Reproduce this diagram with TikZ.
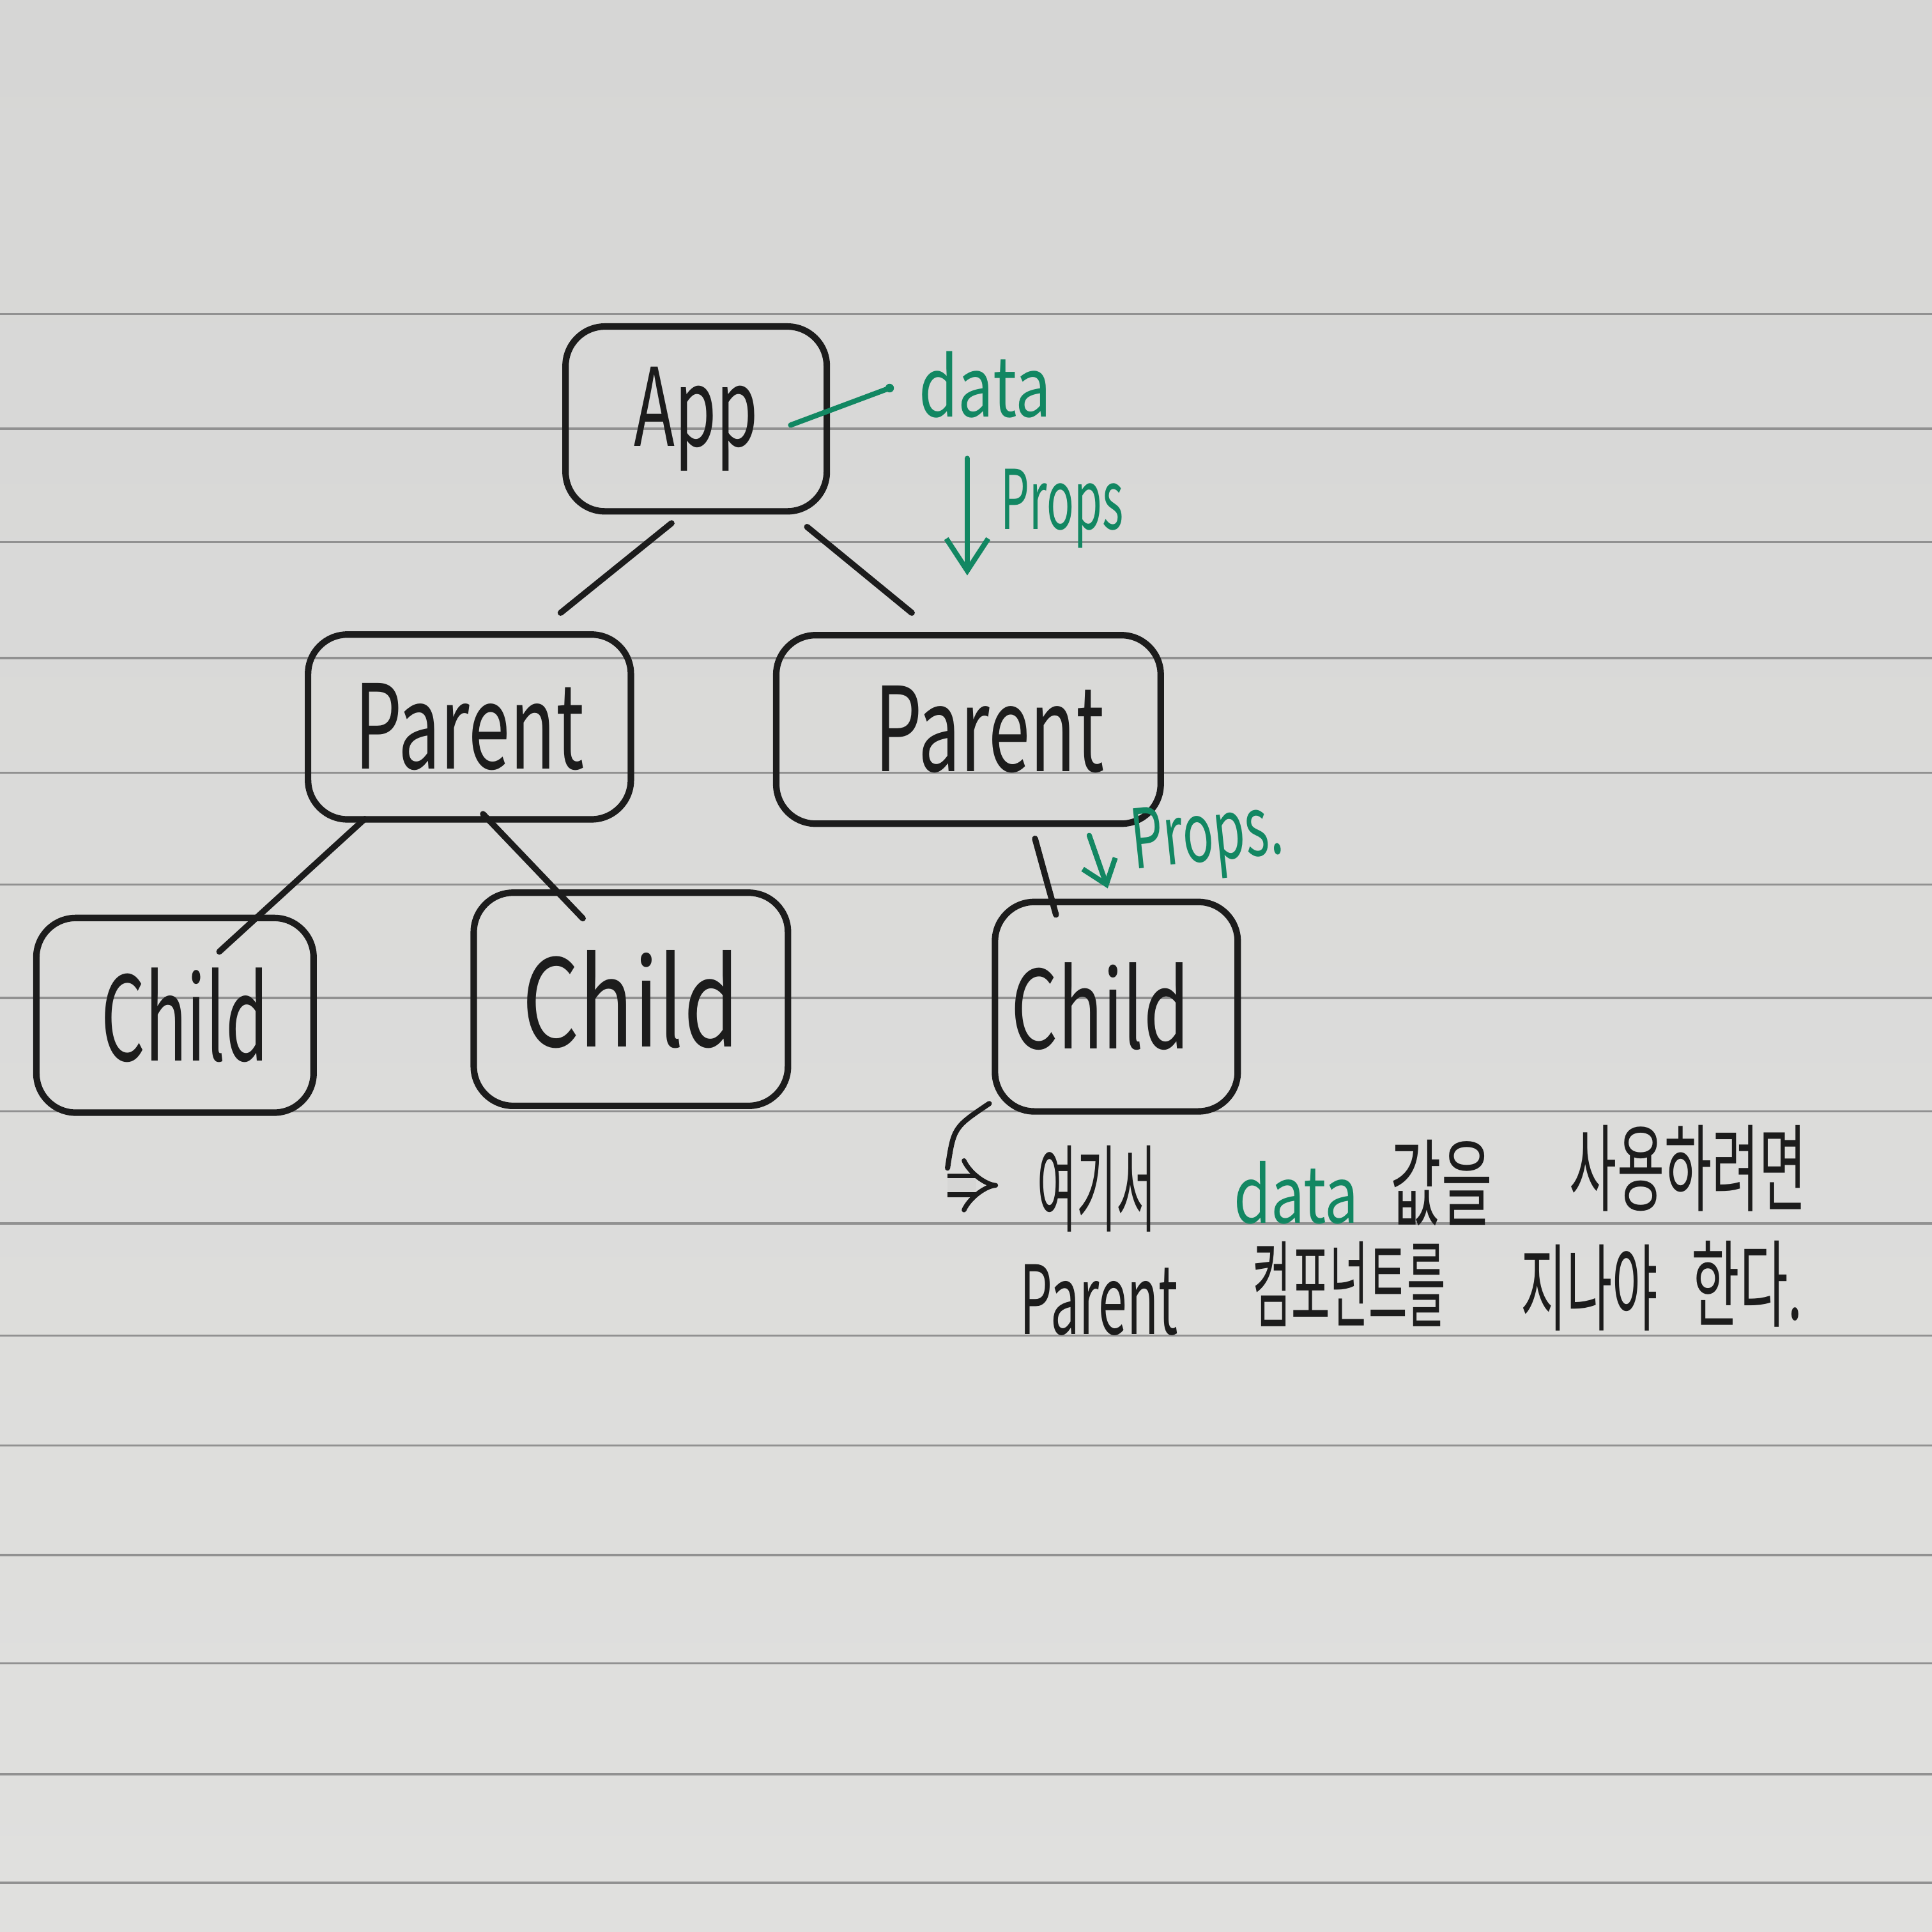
\documentclass[tikz,border=0pt]{standalone}
\usepackage{fontspec}
\usepackage{graphicx}
\setmainfont{Noto Sans CJK KR}
\usetikzlibrary{arrows.meta,calc}
\definecolor{paperA}{RGB}{214,214,213}
\definecolor{paperB}{RGB}{224,224,222}
\definecolor{rulec}{RGB}{145,145,145}
\definecolor{ink}{RGB}{28,28,28}
\definecolor{gink}{RGB}{18,135,98}
\newcommand{\hx}[2]{\scalebox{#1}[1]{#2}}
\begin{document}
\begin{tikzpicture}[x=1cm,y=1cm,
  box/.style={draw=ink, line width=1.5pt, rounded corners=0.32cm, inner sep=0pt, text=ink},
  edge/.style={draw=ink, line width=1.4pt, line cap=round},
  gline/.style={draw=gink, line width=1.2pt, line cap=round},
  glabel/.style={text=gink, inner sep=0pt, font=\fontsize{19}{22}\selectfont},
  klabel/.style={text=ink, inner sep=0pt, font=\fontsize{22}{26}\selectfont},
  ruled/.style={draw=rulec, line width=0.5pt}
]
\shade[top color=paperA, bottom color=paperB] (0,0) rectangle (15.68,-15.68);
\useasboundingbox (0,0) rectangle (15.68,-15.68);
\foreach \y in {2.55,3.48,4.40,5.34,6.27,7.18,8.10,9.02,9.93,10.84,11.73,12.62,13.50,14.40,15.28}
  \draw[ruled] (0,-\y) -- (15.68,-\y);

% tree nodes
\node[box, minimum width=2.12cm, minimum height=1.50cm, font=\fontsize{25}{28}\selectfont] (app) at (5.65,-3.40) {\hx{0.62}{App}};
\node[box, minimum width=2.62cm, minimum height=1.50cm, font=\fontsize{27}{30}\selectfont] (p1) at (3.81,-5.90) {\hx{0.64}{Parent}};
\node[box, minimum width=3.12cm, minimum height=1.53cm, font=\fontsize{27}{30}\selectfont] (p2) at (7.86,-5.92) {\hspace*{0.34cm}\hx{0.64}{Parent}};
\node[box, minimum width=2.25cm, minimum height=1.58cm, font=\fontsize{27}{30}\selectfont] (c1) at (1.42,-8.24) {\hspace*{0.16cm}\hx{0.59}{Child}};
\node[box, minimum width=2.55cm, minimum height=1.73cm, font=\fontsize{28}{31}\selectfont] (c2) at (5.12,-8.11) {\hx{0.74}{Child}};
\node[box, minimum width=1.97cm, minimum height=1.70cm, font=\fontsize{25}{28}\selectfont] (c3) at (9.06,-8.17) {\hx{0.68}{Child}\hspace*{0.26cm}};

% tree edges
\draw[edge] ($(app.south)+(-0.20,-0.07)$) -- ($(p1.north)+(0.74,0.15)$);
\draw[edge] ($(app.south)+(0.90,-0.10)$) -- ($(p2.north)+(-0.46,0.155)$);
\draw[edge] ($(p1.south)+(-0.85,0.03)$) -- ($(c1.north)+(0.36,-0.30)$);
\draw[edge] ($(p1.south)+(0.11,0.07)$) -- ($(c2.north)+(-0.39,-0.235)$);
\draw[edge] ($(p2.south)+(0.54,-0.095)$) -- ($(c3.north)+(-0.49,-0.13)$);

% data label and line
\node[glabel, anchor=west] (data) at (7.45,-3.12) {\hx{0.77}{data}};
\coordinate (dstart) at ($(app.east)+(-0.32,-0.05)$);
\coordinate (dend) at ($(data.west)+(-0.23,-0.03)$);
\draw[gline] (dstart) -- (dend);
\fill[gink] (dend) circle (0.035);

% props arrow 1
\coordinate (pa) at (7.85,-3.72);
\coordinate (pb) at (7.85,-4.67);
\draw[gline, -{Straight Barb[length=2.6mm,width=3.4mm]}] (pa) -- (pb);
\node[glabel] (props1) at (8.62,-4.13) {\hx{0.55}{Props}};

% props arrow 2
\coordinate (qa) at (8.84,-6.78);
\coordinate (qb) at (8.99,-7.21);
\draw[gline, -{Straight Barb[length=1.8mm,width=2.8mm]}] (qa) -- (qb);
\node[glabel, rotate=6] (props2) at (9.80,-6.82) {\hx{0.62}{Props.}};

% bottom arrow
\coordinate (ba) at ($(c3.south west)+(-0.02,0.09)$);
\coordinate (bb) at (7.69,-9.48);
\coordinate (bc) at (7.69,-9.62);
\coordinate (bd) at (8.10,-9.62);
\draw[edge, line width=1.2pt] (ba) .. controls (7.74,-9.15) .. (bb);
\draw[ink, line width=1.1pt, double=paperA, double distance=3.2pt, -{Implies[length=2.4mm]}] (bc) -- (bd);

% korean note
\node[klabel] (k1) at (8.90,-9.65) {\hx{0.45}{여기서}};
\node[glabel, font=\fontsize{18}{20}\selectfont] (k2) at (10.52,-9.68) {\hx{0.77}{data}};
\node[klabel] (k3) at (11.70,-9.60) {\hx{0.58}{값을}};
\node[klabel] (k4) at (13.70,-9.48) {\hx{0.54}{사용하려면}};
\node[klabel] (k5) at (8.92,-10.55) {\hx{0.54}{Parent}};
\node[klabel] (k6) at (10.95,-10.42) {\hx{0.44}{컴포넌트를}};
\node[klabel] (k7) at (12.90,-10.45) {\hx{0.52}{지나야}};
\node[klabel] (k8) at (14.18,-10.42) {\hx{0.55}{한다.}};
\end{tikzpicture}
\end{document}
